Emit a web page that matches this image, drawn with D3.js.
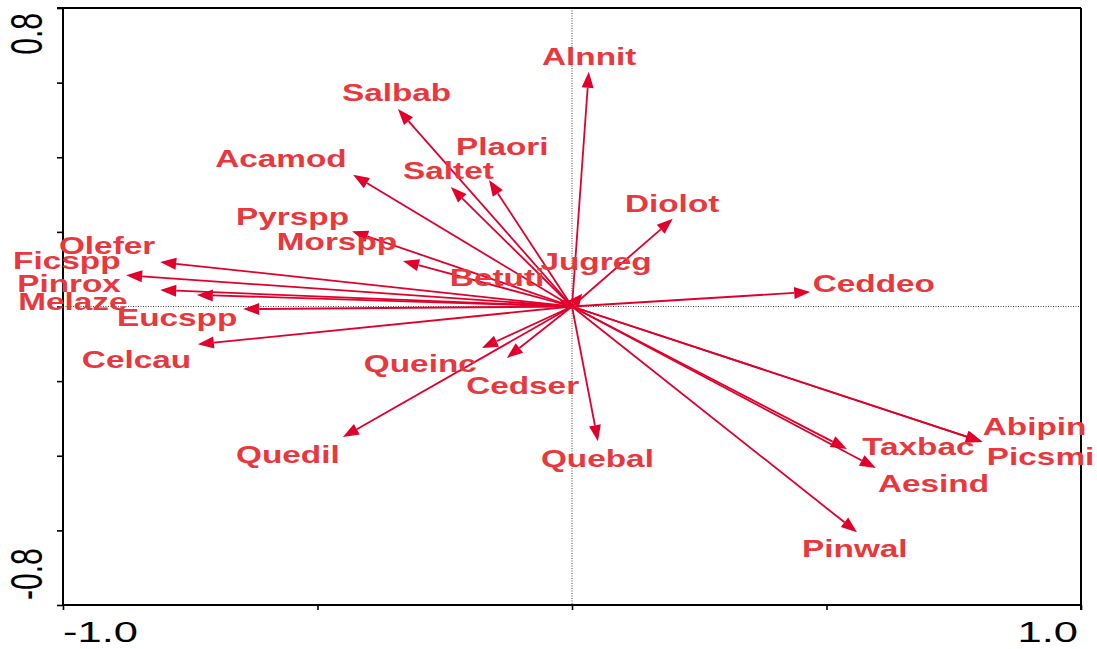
<!DOCTYPE html>
<html>
<head>
<meta charset="utf-8">
<script src="https://cdn.jsdelivr.net/npm/d3@7"></script>
<style>
  html, body { margin: 0; padding: 0; background: #fff; }
  svg { display: block; }
</style>
</head>
<body>
<div id="chart"></div>
<script>
// species codes
const species = ["Alnnit", "Salbab", "Plaori", "Saltet", "Acamod", "Pyrspp", "Morspp",
    "Olefer", "Ficspp", "Pinrox", "Melaze", "Eucspp", "Celcau", "Betuti", "Jugreg",
    "Diolot", "Ceddeo", "Queinc", "Cedser", "Quedil", "Quebal", "Taxbac", "Aesind",
    "Abipin", "Picsmi", "Pinwal"]

// arrow tips (axis 1 / axis 2 scores)
const axis1 = [0.033, -0.342, -0.163, -0.238, -0.430, -0.432, -0.332,
    -0.809, -0.876, -0.809, -0.737, -0.646, -0.735, -0.024, 0.020,
    0.198, 0.468, -0.177, -0.128, -0.450, 0.051, 0.540, 0.597,
    0.807, 0.805, 0.560]
const axis2 = [0.629, 0.529, 0.339, 0.320, 0.353, 0.202, 0.122,
    0.119, 0.084, 0.044, 0.031, -0.007, -0.101, 0.017, 0.034,
    0.235, 0.039, -0.111, -0.138, -0.350, -0.361, -0.382, -0.433,
    -0.363, -0.362, -0.605]

// label anchors as placed in the diagram (same units as the scores)
const labelX = [-0.059, -0.452, -0.228, -0.332, -0.701, -0.660, -0.580,
    -1.008, -1.098, -1.090, -1.088, -0.894, -0.963, -0.240, -0.062,
    0.104, 0.473, -0.409, -0.208, -0.660, -0.061, 0.570, 0.601,
    0.807, 0.815, 0.452]
const labelY = [0.648, 0.551, 0.406, 0.342, 0.374, 0.218, 0.151,
    0.141, 0.101, 0.039, -0.009, -0.052, -0.165, 0.055, 0.098,
    0.253, 0.039, -0.176, -0.235, -0.420, -0.430, -0.398, -0.497,
    -0.344, -0.425, -0.672]

const xTicks = [-1.0, -0.5, 0, 0.5, 1.0]
const yTicks = [-0.8, -0.6, -0.4, -0.2, 0, 0.2, 0.4, 0.6, 0.8]

const W = 1097, H = 649
const stretch = 1.45
const arrowCol = "#e0002b", labelCol = "#e8383d"

const svg = d3.select("#chart").append("svg")
    .attr("width", W)
    .attr("height", H)

const x = d3.scaleLinear().domain([-1, 1]).range([63, 1081])
const y = d3.scaleLinear().domain([-0.8, 0.8]).range([605, 8])

// zero lines
svg.append("line")
    .attr("x1", x(0)).attr("x2", x(0))
    .attr("y1", y(0.8)).attr("y2", y(-0.8))
    .attr("stroke", "#444").attr("stroke-width", 1)
    .attr("stroke-dasharray", "1,1.5")
svg.append("line")
    .attr("x1", x(-1)).attr("x2", x(1))
    .attr("y1", y(0)).attr("y2", y(0))
    .attr("stroke", "#444").attr("stroke-width", 1)
    .attr("stroke-dasharray", "1,1.5")

// axes
const xAxis = svg.append("g")
    .attr("transform", `translate(0,${y(-0.8)})`)
    .call(d3.axisBottom(x).tickValues(xTicks).tickSize(5).tickFormat(""))
const yAxis = svg.append("g")
    .attr("transform", `translate(${x(-1)},0)`)
    .call(d3.axisLeft(y).tickValues(yTicks).tickSize(6).tickFormat(""))

for (const g of [xAxis, yAxis]) {
    g.select(".domain").attr("stroke", "#000").attr("stroke-width", 2)
        .attr("d", g === xAxis ? `M${x(-1)},0H${x(1)}` : `M0,${y(0.8)}V${y(-0.8)}`)
    g.selectAll(".tick line").attr("stroke", "#000").attr("stroke-width", 1.6)
}

// top & right frame
svg.append("line")
    .attr("x1", x(-1) - 6).attr("x2", x(1))
    .attr("y1", y(0.8)).attr("y2", y(0.8))
    .attr("stroke", "#000").attr("stroke-width", 2)
svg.append("line")
    .attr("x1", x(1)).attr("x2", x(1))
    .attr("y1", y(0.8)).attr("y2", y(-0.8) + 5)
    .attr("stroke", "#000").attr("stroke-width", 2)

// axis end labels
const tickFont = "'Liberation Sans', Arial, sans-serif"
svg.append("text")
    .attr("transform", `translate(${x(-1)},642) scale(${stretch},1)`)
    .attr("font-family", tickFont).attr("font-size", 30)
    .attr("text-anchor", "start")
    .text("-1.0")
svg.append("text")
    .attr("transform", `translate(${x(1) - 3},642) scale(${stretch},1)`)
    .attr("font-family", tickFont).attr("font-size", 30)
    .attr("text-anchor", "end")
    .text("1.0")
svg.append("text")
    .attr("transform", `translate(42,${y(0.8) + 5}) scale(${stretch},1) rotate(-90)`)
    .attr("font-family", tickFont).attr("font-size", 30)
    .attr("text-anchor", "end")
    .text("0.8")
svg.append("text")
    .attr("transform", `translate(42,${y(-0.8) - 5}) scale(${stretch},1) rotate(-90)`)
    .attr("font-family", tickFont).attr("font-size", 30)
    .attr("text-anchor", "start")
    .text("-0.8")

// arrows
const data = species.map((s, i) => ({s, ax: axis1[i], ay: axis2[i], lx: labelX[i], ly: labelY[i]}))

const arrows = svg.append("g")
const headLen = 16, headW = 6

data.forEach(d => {
    const x0 = x(0), y0 = y(0)
    const x1 = x(d.ax), y1 = y(d.ay)
    const len = Math.hypot(x1 - x0, y1 - y0)
    const ux = (x1 - x0) / len, uy = (y1 - y0) / len
    const hl = Math.min(headLen, len * 0.8)
    const bx = x1 - ux * hl, by = y1 - uy * hl
    arrows.append("line")
        .attr("x1", x0).attr("y1", y0)
        .attr("x2", bx).attr("y2", by)
        .attr("stroke", arrowCol).attr("stroke-width", 1.8)
    arrows.append("path")
        .attr("d", `M${x1},${y1}L${bx - uy * headW},${by + ux * headW}L${bx + uy * headW},${by - ux * headW}Z`)
        .attr("fill", arrowCol)
})

// labels
svg.append("g").selectAll("text")
    .data(data)
    .join("text")
    .attr("transform", d => `translate(${x(d.lx)},${y(d.ly)}) scale(${stretch},1)`)
    .attr("font-family", tickFont)
    .attr("font-weight", "bold")
    .attr("font-size", 23)
    .attr("fill", labelCol)
    .text(d => d.s)
</script>
</body>
</html>
